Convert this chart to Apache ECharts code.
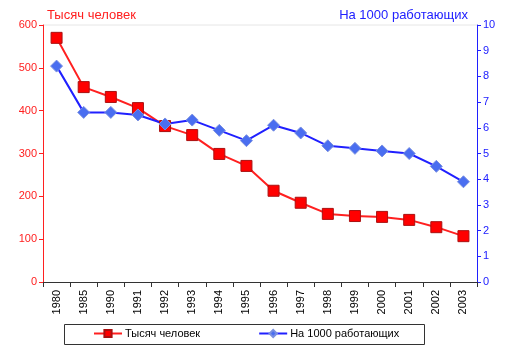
<!DOCTYPE html>
<html><head><meta charset="utf-8">
<script src="https://cdn.jsdelivr.net/npm/echarts@6/dist/echarts.min.js"></script>
<style>html,body{margin:0;padding:0;background:#fff}#c{width:513px;height:357px}</style>
</head><body><div id="c"></div>
<script>
var categories = ['1980','1985','1990','1991','1992','1993','1994','1995','1996','1997','1998','1999','2000','2001','2002','2003'];
var thousands = [570,455,432,406,364,343,299,271,213,185,159,154,152,145,128,107];
var per1000 = [8.4,6.6,6.6,6.5,6.15,6.3,5.9,5.5,6.1,5.8,5.3,5.2,5.1,5.0,4.5,3.9];
var leftTicks = [0,100,200,300,400,500,600];
var rightTicks = [0,1,2,3,4,5,6,7,8,9,10];
var chart = echarts.init(document.getElementById('c'));
var font = 'Liberation Sans, Arial, sans-serif';
chart.setOption({
  animation:false,
  textStyle:{fontFamily:font},
  grid:{left:43,right:36,top:25,bottom:75},
  legend:{
    left:93, top:328,
    itemGap:58, padding:0,
    itemWidth:28, itemHeight:9,
    textStyle:{fontSize:11,color:'#000',fontFamily:font,padding:[0,0,0,-2]},
    data:['Тысяч человек','На 1000 работающих']
  },
  xAxis:{
    type:'category', data:categories, boundaryGap:true,
    axisLine:{lineStyle:{color:'#333',width:1}},
    axisTick:{show:true,length:5,lineStyle:{color:'#333'}},
    axisLabel:{rotate:90,color:'#000',fontSize:11,margin:8}
  },
  yAxis:[{
    type:'value', min:leftTicks[0], max:leftTicks[leftTicks.length-1], interval:100,
    name:'Тысяч человек', nameLocation:'end', nameGap:3,
    nameTextStyle:{color:'#ff2020',fontSize:13,align:'left',padding:[0,0,0,4]},
    axisLine:{show:true,lineStyle:{color:'#ff2020'}},
    axisTick:{show:true,length:4,lineStyle:{color:'#ff2020'}},
    axisLabel:{color:'#ff2020',fontSize:11,margin:6},
    splitLine:{show:false}
  },{
    type:'value', min:rightTicks[0], max:rightTicks[rightTicks.length-1], interval:1,
    name:'На 1000 работающих', nameLocation:'end', nameGap:3,
    nameTextStyle:{color:'#2020ff',fontSize:13,align:'right',padding:[0,9,0,0]},
    position:'right',
    axisLine:{show:true,lineStyle:{color:'#2020ff'}},
    axisTick:{show:true,length:4,lineStyle:{color:'#2020ff'}},
    axisLabel:{color:'#2020ff',fontSize:11,margin:6},
    splitLine:{show:false}
  }],
  graphic:[
    {type:'line',shape:{x1:43,y1:25,x2:477,y2:25},style:{stroke:'#e6e6e6',lineWidth:1},z:-1},
    {type:'rect',shape:{x:64.5,y:324.5,width:360,height:20},style:{fill:'none',stroke:'#333',lineWidth:1},z:-1}
  ],
  series:[{
    name:'Тысяч человек', type:'line', yAxisIndex:0, data:thousands,
    symbol:'rect', symbolSize:11,
    lineStyle:{color:'#ff2020',width:2},
    itemStyle:{color:'#ff0000',borderColor:'#aa1010',borderWidth:1}
  },{
    name:'На 1000 работающих', type:'line', yAxisIndex:1, data:per1000,
    symbol:'diamond', symbolSize:12,
    lineStyle:{color:'#2020ff',width:2},
    itemStyle:{color:'#4a6ef0',borderColor:'#7a90e0',borderWidth:1}
  }]
});
</script></body></html>
